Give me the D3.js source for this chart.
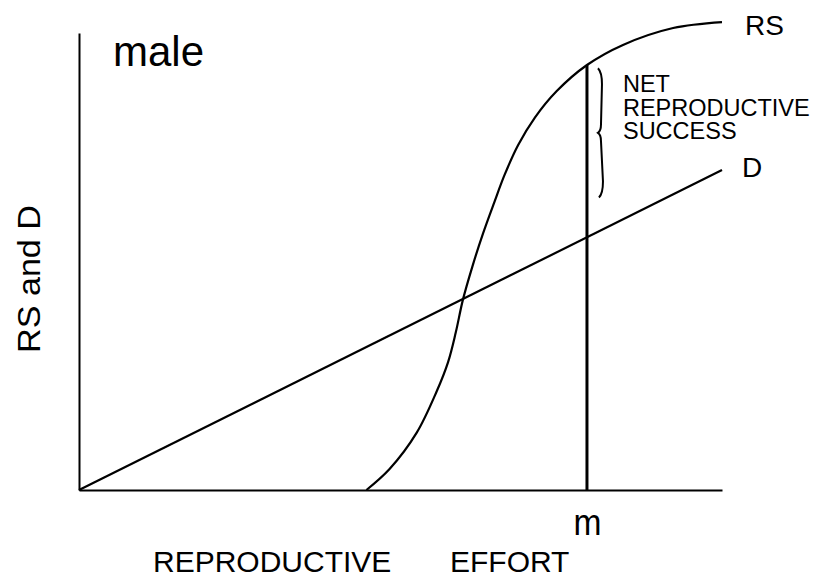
<!DOCTYPE html>
<html>
<head>
<meta charset="utf-8">
<script src="https://cdn.jsdelivr.net/npm/d3@7"></script>
<style>
  html, body { margin: 0; padding: 0; background: #fff; }
  svg { display: block; }
  text { font-family: "Liberation Sans", Arial, sans-serif; fill: #000; }
</style>
</head>
<body>
<svg id="chart" width="826" height="578"></svg>
<script>
// ---- data (conceptual units, 0-100) ----
const rsEffort = [44.7, 48.3, 52.5, 55.6, 57.4, 58.6, 59.7, 61.2, 62.8, 64.6, 66.2, 68.3, 70.9, 74.3, 79.0, 84.6, 92.4, 100];
const rsValue  = [0,    4.6,  12.5, 21.5, 28.0, 34.5, 41.6, 49.0, 56.0, 63.0, 69.0, 75.5, 81.5, 87.3, 93.0, 97.4, 101.1, 102.4];
const dEffort  = [0, 100];
const dValue   = [0, 70];
const mEffort  = 79.0;          // optimal effort m
const mRS      = 93.0;          // RS at m
const braceRange = [92.3, 64];  // extent of "net reproductive success" brace
const labels = {
  panel: "male",
  yTitle: "RS and D",
  xTitle: ["REPRODUCTIVE", "EFFORT"],
  tick: "m",
  rs: "RS",
  d: "D",
  net: ["NET", "REPRODUCTIVE", "SUCCESS"]
};

// ---- scales ----
const svg = d3.select("#chart");
const x = d3.scaleLinear().domain([0, 100]).range([79, 722]);
const y = d3.scaleLinear().domain([0, 100]).range([490, 33]);

// ---- axes ----
const yAxis = svg.append("g")
  .attr("transform", `translate(${x(0)},0)`)
  .call(d3.axisLeft(y).tickValues([]).tickSizeOuter(0));
yAxis.select(".domain").attr("stroke", "#000").attr("stroke-width", 2);

const xAxis = svg.append("g")
  .attr("transform", `translate(0,${y(0)})`)
  .call(d3.axisBottom(x).tickValues([mEffort]).tickFormat(() => labels.tick).tickSize(0).tickSizeOuter(0));
xAxis.select(".domain").attr("stroke", "#000").attr("stroke-width", 2);
xAxis.selectAll(".tick text")
  .attr("dy", null).attr("y", 45)
  .attr("font-family", "Liberation Sans, Arial, sans-serif")
  .attr("font-size", 36).attr("fill", "#000")
  .attr("textLength", 28).attr("lengthAdjust", "spacingAndGlyphs");

// ---- D line ----
const line = d3.line().x(d => x(d[0])).y(d => y(d[1]));
svg.append("path")
  .datum(dEffort.map((e, i) => [e, dValue[i]]))
  .attr("d", line)
  .attr("fill", "none").attr("stroke", "#000").attr("stroke-width", 2.2);

// ---- RS curve ----
const curve = d3.line().x(d => x(d[0])).y(d => y(d[1])).curve(d3.curveCatmullRom.alpha(0.5));
svg.append("path")
  .datum(rsEffort.map((e, i) => [e, rsValue[i]]))
  .attr("d", curve)
  .attr("fill", "none").attr("stroke", "#000").attr("stroke-width", 2.2);

// ---- m vertical line ----
svg.append("line")
  .attr("x1", x(mEffort)).attr("x2", x(mEffort))
  .attr("y1", y(0)).attr("y2", y(mRS))
  .attr("stroke", "#000").attr("stroke-width", 3);

// ---- brace ----
const bx = x(mEffort) + 14;
const bt = y(braceRange[0]), bb = y(braceRange[1]);
const bm = (bt + bb) / 2;
const bracePath = d3.path();
bracePath.moveTo(bx - 3, bt);
bracePath.quadraticCurveTo(bx + 1, bt + 4, bx + 1, bt + 16);
bracePath.lineTo(bx, bm - 8);
bracePath.quadraticCurveTo(bx, bm - 2, bx - 3, bm);
bracePath.quadraticCurveTo(bx, bm + 2, bx, bm + 8);
bracePath.lineTo(bx + 2, bb - 16);
bracePath.quadraticCurveTo(bx + 2, bb - 4, bx - 2, bb);
svg.append("path")
  .attr("d", bracePath.toString())
  .attr("fill", "none").attr("stroke", "#000").attr("stroke-width", 2);

// ---- text labels ----
svg.append("text")
  .attr("x", x(0) + 34).attr("y", 66)
  .attr("font-size", 42)
  .text(labels.panel);

svg.append("text")
  .attr("transform", `translate(40,279) rotate(-90)`)
  .attr("text-anchor", "middle")
  .attr("font-size", 31)
  .attr("textLength", 148).attr("lengthAdjust", "spacingAndGlyphs")
  .text(labels.yTitle);

const xt = svg.append("text").attr("y", 572).attr("font-size", 30);
xt.append("tspan").attr("x", 153).text(labels.xTitle[0]);
xt.append("tspan").attr("x", 450).text(labels.xTitle[1]);

svg.append("text")
  .attr("x", x(100) + 23).attr("y", 35)
  .attr("font-size", 28)
  .text(labels.rs);

svg.append("text")
  .attr("x", x(100) + 20).attr("y", 177)
  .attr("font-size", 28)
  .text(labels.d);

const net = svg.append("text").attr("font-size", 23.5);
labels.net.forEach((t, i) => {
  net.append("tspan").attr("x", x(mEffort) + 36).attr("y", 92 + i * 23.5).text(t);
});
</script>
</body>
</html>
